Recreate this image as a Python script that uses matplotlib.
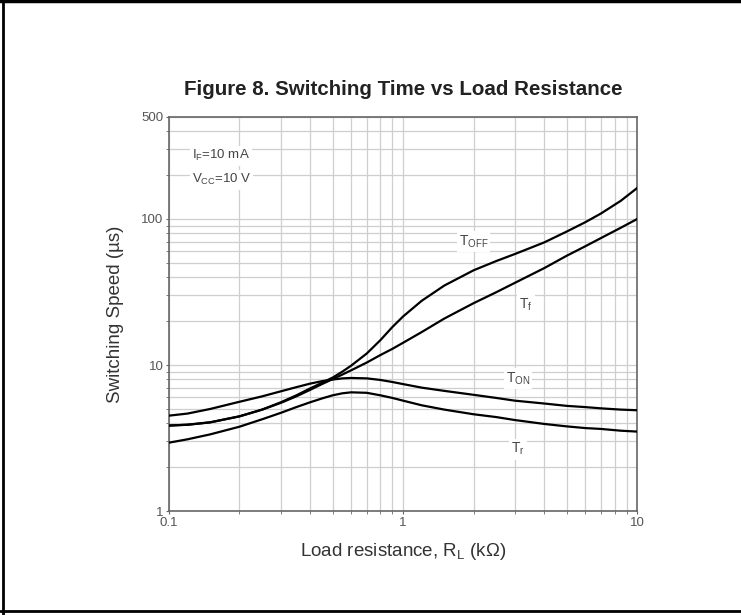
import matplotlib.pyplot as plt
from matplotlib.lines import Line2D
from matplotlib.ticker import NullFormatter

plt.rcParams['font.family'] = ['Liberation Sans', 'DejaVu Sans']

# load resistance (kOhm)
rl = [0.1, 0.12, 0.15, 0.2, 0.25, 0.3, 0.35, 0.4, 0.45, 0.5, 0.55, 0.6, 0.7, 0.8, 0.9,
      1.0, 1.2, 1.5, 2, 2.5, 3, 4, 5, 6, 7, 8.5, 10]

# switching times (us)
t_off = [3.85, 3.9, 4.05, 4.45, 4.95, 5.55, 6.2, 6.9, 7.55, 8.2, 9.0, 9.9, 12.0, 14.8, 18.2,
         21.5, 27.5, 35, 44.5, 51.5, 57.5, 69, 82, 95, 109, 133, 163]
t_f = [3.85, 3.9, 4.05, 4.45, 4.95, 5.5, 6.1, 6.75, 7.4, 8.0, 8.6, 9.2, 10.4, 11.7, 12.9,
       14.2, 16.8, 20.8, 26.5, 31.5, 36.5, 46, 56, 65, 74, 87, 100]
t_on = [4.5, 4.65, 5.0, 5.6, 6.1, 6.6, 7.05, 7.45, 7.75, 7.95, 8.1, 8.15, 8.1, 7.9, 7.65,
        7.4, 7.0, 6.65, 6.25, 5.95, 5.7, 5.45, 5.25, 5.15, 5.05, 4.95, 4.9]
t_r = [2.94, 3.1, 3.35, 3.78, 4.25, 4.7, 5.15, 5.55, 5.9, 6.2, 6.4, 6.5, 6.45, 6.2, 5.95,
       5.7, 5.3, 4.95, 4.6, 4.4, 4.2, 3.95, 3.8, 3.7, 3.65, 3.55, 3.5]

yticks = [1, 10, 100, 500]
xticks = [0.1, 1, 10]

fig = plt.figure(figsize=(7.41, 6.15), dpi=100)
ax = fig.add_axes([0.228, 0.169, 0.632, 0.641])

for ys in [t_off, t_f, t_on, t_r]:
    ax.plot(rl, ys, color='black', lw=1.6, zorder=3)

ax.set_xscale('log')
ax.set_yscale('log')
ax.set_xlim(0.1, 10)
ax.set_ylim(1, 500)
ax.grid(True, which='both', color='#cfcfcf', lw=0.9)
ax.set_axisbelow(True)

ax.set_xticks(xticks)
ax.set_xticklabels(['0.1', '1', '10'])
ax.set_yticks(yticks)
ax.set_yticklabels(['1', '10', '100', '500'])
ax.xaxis.set_minor_formatter(NullFormatter())
ax.yaxis.set_minor_formatter(NullFormatter())
ax.tick_params(which='both', length=2, color='#666666', labelsize=9.5, labelcolor='#555555', pad=2)
for s in ax.spines.values():
    s.set_color('#666666')
    s.set_linewidth(1.2)

ax.set_xlabel(r'Load resistance, R$_\mathregular{L}$ (k$\mathregular{\Omega}$)', fontsize=13.5,
              color='#333333', labelpad=9)
ax.set_ylabel('Switching Speed (µs)', fontsize=13.5, color='#333333', labelpad=12)

fig.text(0.544, 0.855, 'Figure 8. Switching Time vs Load Resistance', ha='center', va='center',
         fontsize=14.8, fontweight='bold', color='#222222')

box = dict(facecolor='white', edgecolor='none', pad=1.5)
ax.text(0.125, 270, r'I$_\mathregular{F}$=10 mA', fontsize=9.5, color='#444444', va='center', bbox=box)
ax.text(0.125, 185, r'V$_\mathregular{CC}$=10 V', fontsize=9.5, color='#444444', va='center', bbox=box)
ax.text(2.0, 70, r'T$_\mathregular{OFF}$', fontsize=10, color='#444444', ha='center', va='center', bbox=box)
ax.text(3.35, 26, r'T$_\mathregular{f}$', fontsize=10, color='#444444', ha='center', va='center', bbox=box)
ax.text(3.1, 8.1, r'T$_\mathregular{ON}$', fontsize=10, color='#444444', ha='center', va='center', bbox=box)
ax.text(3.1, 2.65, r'T$_\mathregular{r}$', fontsize=10, color='#444444', ha='center', va='center', bbox=box)

# page frame
fig.add_artist(Line2D([0.004, 0.004], [0, 1], color='black', lw=2, transform=fig.transFigure))
fig.add_artist(Line2D([0, 1], [0.998, 0.998], color='black', lw=2.5, transform=fig.transFigure))
fig.add_artist(Line2D([0, 1], [0.006, 0.006], color='black', lw=2, transform=fig.transFigure))

fig.savefig('out.png', dpi=100)
